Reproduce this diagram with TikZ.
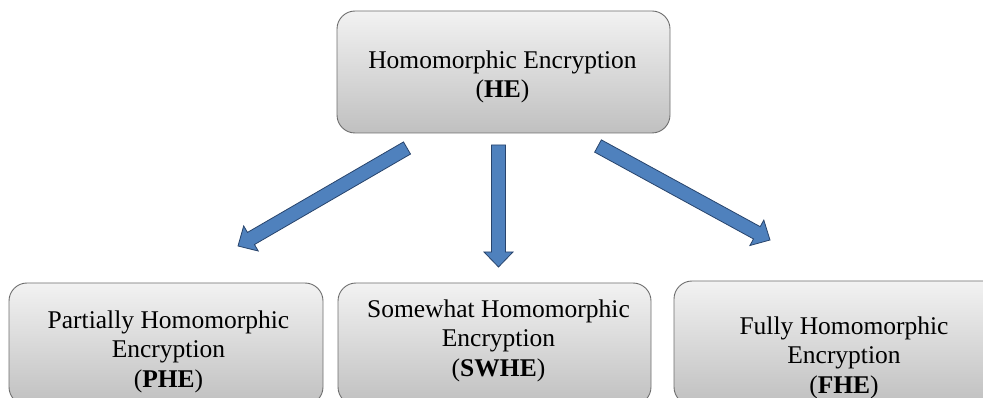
\documentclass[tikz,border=0pt]{standalone}
\usepackage{fontspec}
\setmainfont{Liberation Serif}
\usetikzlibrary{calc}

\definecolor{boxtop}{RGB}{242,242,242}
\definecolor{boxbottom}{RGB}{192,192,192}
\definecolor{boxedge}{RGB}{110,110,110}
\definecolor{arrowblue}{RGB}{79,129,189}
\definecolor{arrowedge}{RGB}{40,68,108}

\tikzset{
  catbox/.style={draw=boxedge, line width=0.9pt, rounded corners=18pt,
    top color=boxtop, bottom color=boxbottom, inner sep=0pt},
  cattext/.style={anchor=north, inner sep=0pt, align=center,
    font=\fontsize{25.5pt}{29.5pt}\selectfont},
  bluearrow/.style={fill=arrowblue, draw=arrowedge, line width=0.8pt, line join=miter},
}

% block arrow from tail #1 to tip #2
\newcommand\blockarrow[2]{%
  \coordinate (#1-h) at ($(#2)!15pt!(#1)$);
  \draw[bluearrow]
    ($(#1)!7pt!90:(#2)$) -- ($(#1-h)!7pt!90:(#2)$) -- ($(#1-h)!14.5pt!90:(#2)$)
    -- (#2) -- ($(#1-h)!14.5pt!-90:(#2)$) -- ($(#1-h)!7pt!-90:(#2)$)
    -- ($(#1)!7pt!-90:(#2)$) -- cycle;
}

\begin{document}
\begin{tikzpicture}[x=1pt, y=1pt]
  \useasboundingbox (0,0) rectangle (983,-398);
  \clip (0,0) rectangle (983,-398);

  % root box
  \node[catbox, minimum width=333pt, minimum height=122pt] (he) at (503.5,-72) {};
  \node[cattext] (he-label) at (502.5,-50.6)
    {Homomorphic Encryption\\(\textbf{HE})};

  % three categories
  \node[catbox, minimum width=314pt, minimum height=122pt] (phe) at (166,-344) {};
  \node[cattext] (phe-label) at (168.5,-310.6)
    {Partially Homomorphic\\Encryption\\(\textbf{PHE})};

  \node[catbox, minimum width=313pt, minimum height=122pt] (swhe) at (494.5,-344) {};
  \node[cattext] (swhe-label) at (498.5,-299.6)
    {Somewhat Homomorphic\\Encryption\\(\textbf{SWHE})};

  \node[catbox, minimum width=332pt, minimum height=124pt] (fhe) at (840,-343) {};
  \node[cattext] (fhe-label) at (844,-316.6)
    {Fully Homomorphic\\Encryption\\(\textbf{FHE})};

  % arrow ends
  \coordinate (la-tail) at (407,-148);
  \coordinate (la-tip)  at (238,-246);
  \coordinate (ma-tail) at (498.5,-145);
  \coordinate (ma-tip)  at (498.5,-267);
  \coordinate (ra-tail) at (598,-146);
  \coordinate (ra-tip)  at (770,-240);

  \blockarrow{la-tail}{la-tip}
  \blockarrow{ma-tail}{ma-tip}
  \blockarrow{ra-tail}{ra-tip}
\end{tikzpicture}
\end{document}
